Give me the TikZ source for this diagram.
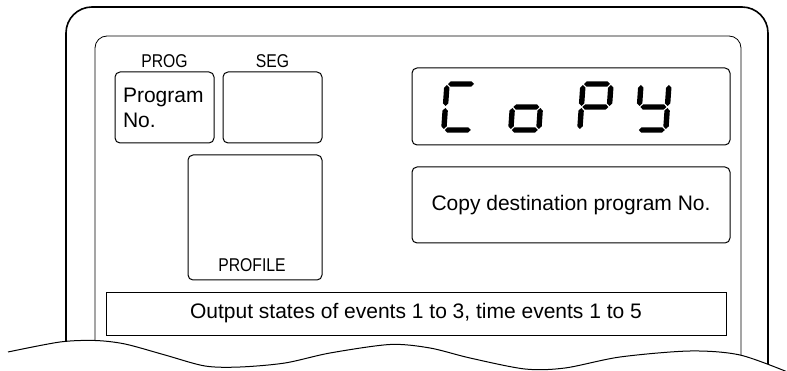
\documentclass[tikz,border=0pt]{standalone}
\usepackage{fontspec}
\setmainfont{Liberation Sans}
\newfontfamily\narrowfont[FakeStretch=0.85]{Liberation Sans}
\newcommand{\hseg}[3]{\fill (#1,#2) ++(1,0) -- ++(2.7,-2.7) -- ++(#3-7.4,0) -- ++(2.7,2.7) -- ++(-2.7,2.7) -- ++(-#3+7.4,0) -- cycle;}
\newcommand{\vseg}[3]{\fill (#1,#2) ++(0,1) -- ++(2.7,2.7) -- ++(0,#3-7.4) -- ++(-2.7,2.7) -- ++(-2.7,-2.7) -- ++(0,-#3+7.4) -- cycle;}
\newcommand{\sega}{\hseg{0}{0}{28}}
\newcommand{\segb}{\vseg{28}{0}{23}}
\newcommand{\segc}{\vseg{28}{23}{23}}
\newcommand{\segd}{\hseg{0}{46}{28}}
\newcommand{\sege}{\vseg{0}{23}{23}}
\newcommand{\segf}{\vseg{0}{0}{23}}
\newcommand{\segg}{\hseg{0}{23}{28}}

\begin{document}
\begin{tikzpicture}[x=1pt,y=-1pt,
		every node/.style = {font=\fontsize{21}{25}\selectfont},
		key/.style args = {#1/#2}{%
			draw, line width=1pt, rounded corners=5pt, inner sep=0pt,
			minimum width=#1, minimum height=#2},
		lbl/.style = {font=\narrowfont\fontsize{18.5}{21}\selectfont}
		]
		\useasboundingbox (0,0) rectangle (787,371);
		\draw[line width=1.6pt, rounded corners=26pt] (66,380) -- (66,7) -- (768,7) -- (768,380);
		\draw[line width=0.8pt, rounded corners=12pt] (95,380) -- (95,36) -- (741,36) -- (741,380);
		\node (prog) [key=99pt/71pt, align=left, text width=83pt, label={[lbl, label distance=0pt]above:PROG}] at (164.5,107.5) {Program\\No.};
		\node (seg) [key=99pt/71pt, label={[lbl, label distance=0pt]above:SEG}] at (272.5,107.5) {};
		\node (prof) [key=134pt/125pt] at (255,217.5) {};
		\node (proflbl) [lbl, anchor=base] at (252,272) {PROFILE};
		\node (disp) [key=318pt/77pt] at (571,106.5) {};
		\node (dest) [key=318pt/76pt] at (571,205) {Copy destination program No.};
		\node (evt) [draw, line width=0.9pt, minimum width=620pt, minimum height=43pt] at (416,313.5) {Output states of events 1 to 3, time events 1 to 5};
		\foreach \xpos/\segs in {447/{a,d,e,f}, 514/{c,d,e,g}, 583/{a,b,e,f,g}, 641/{b,c,d,f,g}}
		{
			\begin{scope}[shift={(\xpos,84)}, xslant=0.07]
				\foreach \s in \segs {\csname seg\s\endcsname}
			\end{scope}
		}
		\fill[white] (0,400) -- plot[smooth] coordinates {(8,352) (60,342) (95,340.5) (125,344) (165,355) (205,366) (240,367) (285,363) (330,353) (390,344.5) (430,348) (470,358) (525,369) (565,368) (620,357) (690,351) (740,355) (790,373)} -- (800,400) -- cycle;
		\draw[line width=1pt] plot[smooth] coordinates {(8,352) (60,342) (95,340.5) (125,344) (165,355) (205,366) (240,367) (285,363) (330,353) (390,344.5) (430,348) (470,358) (525,369) (565,368) (620,357) (690,351) (740,355) (790,373)};
	\end{tikzpicture}
\end{document}
